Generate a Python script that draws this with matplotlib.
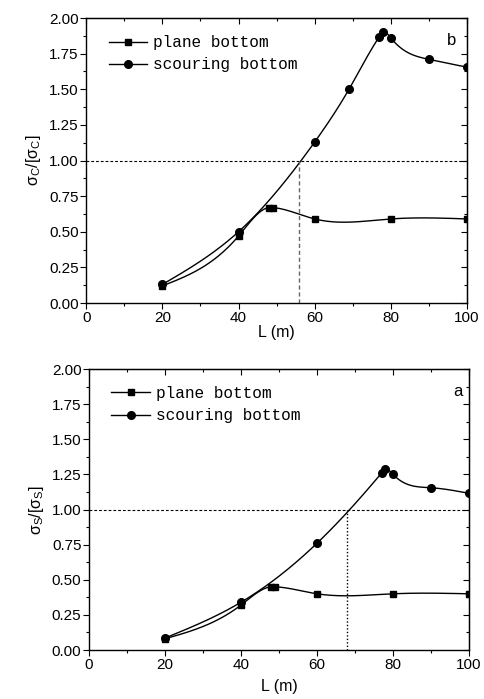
import numpy as np
import matplotlib
matplotlib.use('Agg')
import matplotlib.pyplot as plt
from matplotlib.ticker import MultipleLocator

plt.rcParams['font.family'] = ['Liberation Sans', 'DejaVu Sans']
plt.rcParams['mathtext.fontset'] = 'custom'
plt.rcParams['mathtext.rm'] = 'Liberation Sans'

# panel b (sigma_C)
L_plane_b = [20, 40, 48, 49, 60, 80, 100]
plane_b = [0.12, 0.47, 0.67, 0.67, 0.59, 0.59, 0.59]
L_scour_b = [20, 40, 60, 69, 77, 78, 80, 90, 100]
scour_b = [0.13, 0.50, 1.13, 1.50, 1.87, 1.90, 1.86, 1.71, 1.655]
cross_b = 56

# panel a (sigma_S)
L_plane_a = [20, 40, 48, 49, 60, 80, 100]
plane_a = [0.08, 0.32, 0.45, 0.45, 0.40, 0.40, 0.40]
L_scour_a = [20, 40, 60, 77, 78, 80, 90, 100]
scour_a = [0.085, 0.34, 0.76, 1.26, 1.285, 1.25, 1.155, 1.115]
cross_a = 68


def spline(x, y, n=400):
    # natural cubic spline through the points, only used for drawing the line
    x = np.asarray(x, float)
    y = np.asarray(y, float)
    m = len(x)
    h = np.diff(x)
    A = np.zeros((m, m))
    r = np.zeros(m)
    A[0, 0] = 1
    A[-1, -1] = 1
    for i in range(1, m - 1):
        A[i, i - 1] = h[i - 1]
        A[i, i] = 2 * (h[i - 1] + h[i])
        A[i, i + 1] = h[i]
        r[i] = 6 * ((y[i + 1] - y[i]) / h[i] - (y[i] - y[i - 1]) / h[i - 1])
    M = np.linalg.solve(A, r)
    xs = np.linspace(x[0], x[-1], n)
    k = np.clip(np.searchsorted(x, xs) - 1, 0, m - 2)
    t0 = x[k + 1] - xs
    t1 = xs - x[k]
    hk = h[k]
    ys = (M[k] * t0**3 + M[k + 1] * t1**3) / (6 * hk) \
        + (y[k] / hk - M[k] * hk / 6) * t0 + (y[k + 1] / hk - M[k + 1] * hk / 6) * t1
    return xs, ys


def panel(ax, Lp, p, Ls, s, cross, vstyle, vcolor, letter, lx, ylab, xpad):
    xs, ys = spline(Lp, p)
    ax.plot(xs, ys, color='k', lw=1.0)
    ax.plot(Lp, p, 's', color='k', ms=5, ls='none')
    xs, ys = spline(Ls, s)
    ax.plot(xs, ys, color='k', lw=1.0)
    ax.plot(Ls, s, 'o', color='k', ms=5.5, ls='none')
    # legend proxies
    ax.plot([], [], '-s', color='k', ms=5, lw=1.0, label='plane bottom')
    ax.plot([], [], '-o', color='k', ms=5.5, lw=1.0, label='scouring bottom')
    ax.axhline(1.0, color='k', ls=(0, (2.5, 1.8)), lw=0.8)
    ax.plot([cross, cross], [0, 1.0], color=vcolor, ls=vstyle, lw=1.0)
    ax.set_xlim(0, 100)
    ax.set_ylim(0, 2.0)
    ax.xaxis.set_major_locator(MultipleLocator(20))
    ax.xaxis.set_minor_locator(MultipleLocator(10))
    ax.yaxis.set_major_locator(MultipleLocator(0.25))
    ax.yaxis.set_minor_locator(MultipleLocator(0.125))
    ax.yaxis.set_major_formatter(matplotlib.ticker.FormatStrFormatter('%.2f'))
    ax.tick_params(which='major', direction='out', length=4, width=0.8, labelsize=11, pad=1.5)
    ax.tick_params(which='minor', direction='out', length=2.5, width=0.8)
    for side in ['top', 'right']:
        sec = ax.secondary_xaxis('top') if side == 'top' else ax.secondary_yaxis('right')
        axis = sec.xaxis if side == 'top' else sec.yaxis
        if side == 'top':
            axis.set_major_locator(MultipleLocator(20))
            axis.set_minor_locator(MultipleLocator(10))
        else:
            axis.set_major_locator(MultipleLocator(0.25))
            axis.set_minor_locator(MultipleLocator(0.125))
        sec.tick_params(which='major', direction='in', length=4, width=0.8, labelsize=0)
        sec.tick_params(which='minor', direction='in', length=2.5, width=0.8)
        axis.set_ticklabels([])
    for sp in ax.spines.values():
        sp.set_linewidth(1.0)
    ax.set_xlabel('L (m)', fontsize=11.5, labelpad=xpad)
    ax.set_ylabel(ylab, fontsize=11.5, labelpad=4)
    ax.text(lx, 0.92, letter, transform=ax.transAxes, fontsize=12, ha='center', va='center')
    ax.legend(loc='upper left', frameon=False, handlelength=2.4, handletextpad=0.35,
              labelspacing=0.45, borderaxespad=0.4, bbox_to_anchor=(0.025, 0.985),
              prop={'family': 'Liberation Mono', 'size': 11.6})


fig = plt.figure(figsize=(4.84, 6.99), dpi=100)
ax1 = fig.add_axes([0.178, 0.5665, 0.787, 0.4077])
ax2 = fig.add_axes([0.184, 0.0701, 0.785, 0.402])

panel(ax1, L_plane_b, plane_b, L_scour_b, scour_b, cross_b, (0, (3, 2)), '#666666', 'b', 0.96,
      'σ$_\\mathregular{C}$/[σ$_\\mathregular{C}$]', 0.5)
panel(ax2, L_plane_a, plane_a, L_scour_a, scour_a, cross_a, (0, (1, 1.5)), 'k', 'a', 0.97,
      'σ$_\\mathregular{S}$/[σ$_\\mathregular{S}$]', 5)

fig.savefig('out.png', dpi=100)
